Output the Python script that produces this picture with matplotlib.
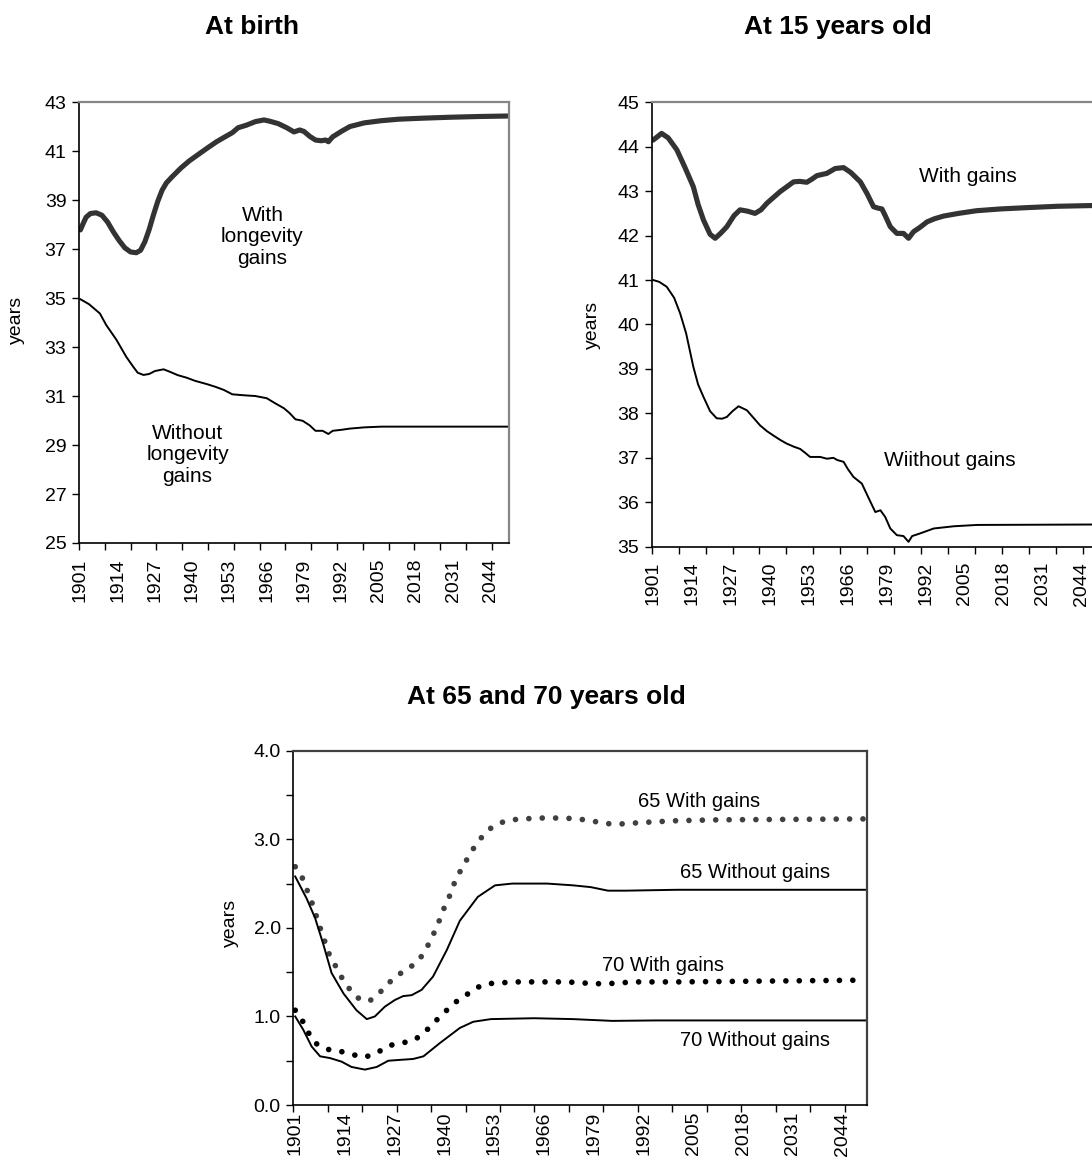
import numpy as np
import matplotlib
matplotlib.use("Agg")
import matplotlib.pyplot as plt
from matplotlib.ticker import FixedLocator, NullFormatter

plt.rcParams['font.family'] = ['Liberation Sans', 'DejaVu Sans']

# ---- data ----
# At birth
birth_with_yr = [1901, 1902, 1903, 1904.5, 1906.5, 1908.5, 1910.5, 1912.5, 1914.5, 1916.5, 1918.5,
                 1920.5, 1922, 1923.5, 1925, 1926.5, 1928, 1929.5, 1931, 1933, 1936, 1939, 1942,
                 1945, 1948.5, 1951, 1954, 1956, 1959, 1962, 1965, 1967, 1970, 1973, 1975.5,
                 1977.5, 1979, 1981, 1983, 1985, 1986.5, 1987.5, 1989, 1992, 1995, 2000, 2006,
                 2012, 2020, 2030, 2040, 2050]
birth_with = [37.78, 38.05, 38.3, 38.45, 38.48, 38.38, 38.1, 37.7, 37.35, 37.05, 36.88, 36.85,
              36.95, 37.3, 37.8, 38.4, 38.95, 39.4, 39.7, 39.95, 40.3, 40.6, 40.85, 41.1, 41.38,
              41.55, 41.75, 41.95, 42.06, 42.2, 42.27, 42.22, 42.12, 41.95, 41.78, 41.86, 41.8,
              41.6, 41.45, 41.42, 41.45, 41.38, 41.58, 41.8, 42.0, 42.15, 42.24, 42.3, 42.34,
              42.38, 42.41, 42.43]
birth_without_yr = [1901, 1904, 1907.8, 1910, 1913.6, 1917, 1919.4, 1921, 1923, 1925, 1927, 1930,
                    1932, 1935, 1938, 1941, 1945, 1948, 1951, 1954, 1958, 1962, 1966, 1969, 1972,
                    1974, 1976, 1978.5, 1981, 1983, 1985.5, 1987.5, 1989, 1992, 1995, 2000, 2006,
                    2050]
birth_without = [34.95, 34.75, 34.37, 33.9, 33.29, 32.6, 32.2, 31.95, 31.86, 31.9, 32.02, 32.09,
                 32.0, 31.85, 31.75, 31.62, 31.49, 31.38, 31.25, 31.07, 31.03, 31.0, 30.91, 30.7,
                 30.5, 30.3, 30.05, 29.99, 29.8, 29.58, 29.58, 29.45, 29.58, 29.62, 29.67, 29.72,
                 29.75, 29.75]

# At 15 years old
age15_with_yr = [1901, 1903.8, 1906, 1908.9, 1911.5, 1914.4, 1916, 1917.8, 1920, 1921.7, 1923.5,
                 1925.6, 1928, 1930, 1932.5, 1935, 1937, 1939, 1943.4, 1947.9, 1950, 1952.3, 1954,
                 1955.7, 1959, 1961.8, 1964.6, 1967, 1970.2, 1972.4, 1974.6, 1976, 1977.4, 1978.5,
                 1980.2, 1982.4, 1984.6, 1986.3, 1988, 1990, 1992.5, 1995, 1998, 2003, 2009, 2017,
                 2026, 2036, 2050]
age15_with = [44.15, 44.3, 44.2, 43.93, 43.55, 43.1, 42.7, 42.35, 42.03, 41.94, 42.05, 42.2, 42.45,
              42.58, 42.55, 42.5, 42.58, 42.73, 42.99, 43.21, 43.22, 43.2, 43.27, 43.35, 43.4,
              43.51, 43.53, 43.42, 43.21, 42.95, 42.65, 42.62, 42.6, 42.45, 42.2, 42.05, 42.05,
              41.94, 42.09, 42.18, 42.31, 42.38, 42.44, 42.5, 42.56, 42.6, 42.63, 42.66, 42.68]
age15_without_yr = [1901, 1903, 1905.5, 1908, 1910, 1912, 1914.4, 1916, 1917.8, 1920, 1922.2, 1924,
                    1925.6, 1927.5, 1929.5, 1932.3, 1934.5, 1936.7, 1939, 1941.2, 1943.5, 1945.6,
                    1948, 1950.1, 1952, 1953.4, 1956.8, 1959, 1961.2, 1962.5, 1964.6, 1966, 1967.9,
                    1970.7, 1973, 1975.2, 1976.9, 1978.5, 1980.2, 1982.4, 1984.6, 1986.3, 1987.5,
                    1990.2, 1994.7, 2001.4, 2009.2, 2050]
age15_without = [41.0, 40.96, 40.85, 40.6, 40.25, 39.8, 39.05, 38.65, 38.37, 38.05, 37.89, 37.88,
                 37.92, 38.05, 38.16, 38.07, 37.9, 37.73, 37.6, 37.5, 37.4, 37.32, 37.25, 37.2,
                 37.1, 37.02, 37.02, 36.98, 37.0, 36.95, 36.91, 36.75, 36.57, 36.42, 36.09, 35.78,
                 35.82, 35.67, 35.41, 35.26, 35.24, 35.11, 35.24, 35.3, 35.41, 35.46, 35.49, 35.5]

# At 65 and 70 years old
a65_with_yr = [1901, 1902.9, 1905.4, 1907.6, 1909.8, 1913, 1915, 1917.3, 1920.3, 1922.9, 1925.2,
               1927.9, 1930.9, 1933.4, 1935.3, 1936.8, 1938.3, 1939.4, 1941, 1942.1, 1943.6, 1945.3,
               1947, 1948.9, 1951.2, 1954.1, 1957.4, 1960.9, 1964.3, 1971, 1974.8, 1978.2, 1981.6,
               1985, 1988.4, 1991.8, 2000.8, 2012, 2050]
a65_with = [2.69, 2.56, 2.28, 1.99, 1.71, 1.45, 1.32, 1.21, 1.17, 1.26, 1.37, 1.47, 1.55, 1.64,
            1.77, 1.9, 2.04, 2.18, 2.32, 2.46, 2.6, 2.73, 2.86, 2.98, 3.1, 3.18, 3.22, 3.23, 3.24,
            3.24, 3.23, 3.21, 3.18, 3.17, 3.18, 3.19, 3.21, 3.22, 3.23]
a65_without_yr = [1901, 1904, 1906.2, 1908.3, 1910.5, 1913.6, 1917, 1919.7, 1921.8, 1924.4, 1927,
                  1929.2, 1931.4, 1934, 1937, 1940.6, 1944, 1948.7, 1953.2, 1957.7, 1966.8, 1973.6,
                  1978.2, 1982.7, 1987.3, 2000.8, 2050]
a65_without = [2.58, 2.33, 2.11, 1.82, 1.49, 1.26, 1.07, 0.97, 1.0, 1.11, 1.185, 1.23, 1.24, 1.3,
               1.45, 1.75, 2.08, 2.35, 2.48, 2.5, 2.5, 2.48, 2.46, 2.42, 2.42, 2.43, 2.43]
a70_with_yr = [1901, 1902.9, 1904.4, 1906.2, 1909.2, 1912.5, 1915.9, 1919.2, 1922.4, 1925.3, 1928.8,
               1932, 1934.8, 1937.2, 1939.7, 1942.1, 1945, 1948.1, 1951.2, 1954.9, 1958.3, 1972,
               1975.6, 1979, 1982.7, 1986.1, 1989.5, 2000.8, 2050]
a70_with = [1.07, 0.95, 0.82, 0.7, 0.63, 0.61, 0.57, 0.54, 0.59, 0.67, 0.7, 0.73, 0.82, 0.93, 1.03,
            1.14, 1.22, 1.32, 1.37, 1.38, 1.39, 1.39, 1.38, 1.37, 1.37, 1.38, 1.39, 1.39, 1.41]
a70_without_yr = [1901, 1903.1, 1905.3, 1907.5, 1910.1, 1913.1, 1915.7, 1919.2, 1922.3, 1925.3,
                  1928.4, 1931.8, 1934.5, 1938.8, 1944, 1947.5, 1952.1, 1963.4, 1973.6, 1983.8,
                  1995, 2050]
a70_without = [1.0, 0.85, 0.66, 0.55, 0.53, 0.49, 0.43, 0.4, 0.43, 0.5, 0.51, 0.52, 0.55, 0.7,
               0.87, 0.94, 0.97, 0.98, 0.97, 0.95, 0.955, 0.955]

tick_years = list(range(1901, 2045, 13))
mark_years = [1900.5 + 9 * k for k in range(17)]

thick = dict(color='#333333', lw=3.7, solid_capstyle='round', solid_joinstyle='round')
thin = dict(color='black', lw=1.4, solid_joinstyle='round')
TICK_FS = 14


def style_axes(ax, ylo, yhi, ystep, edge='#868686', fmt='{:.0f}', minor_y=None, xpad=11):
    ax.set_xlim(1900.5, 2050.5)
    ax.set_ylim(ylo, yhi)
    ax.set_xticks(tick_years)
    ax.set_xticklabels([str(y) for y in tick_years], rotation=90, fontsize=TICK_FS)
    ax.xaxis.set_minor_locator(FixedLocator(mark_years))
    ax.xaxis.set_minor_formatter(NullFormatter())
    ax.tick_params(axis='x', which='major', length=0, pad=xpad)
    ax.tick_params(axis='x', which='minor', length=5, width=1, direction='out')
    yt = np.arange(ylo, yhi + ystep / 2, ystep)
    ax.set_yticks(yt)
    ax.set_yticklabels([fmt.format(v) for v in yt], fontsize=TICK_FS)
    if minor_y is not None:
        ax.yaxis.set_minor_locator(FixedLocator(minor_y))
    ax.tick_params(axis='y', which='both', length=5, width=1, direction='out', pad=4)
    for s in ['left', 'bottom']:
        ax.spines[s].set_color('black')
        ax.spines[s].set_linewidth(1.2)
    for s in ['top', 'right']:
        ax.spines[s].set_color(edge)
        ax.spines[s].set_linewidth(1.6)


fig = plt.figure(figsize=(10.92, 11.61), dpi=100)

# At birth
ax1 = fig.add_axes([0.0723, 0.5323, 0.3938, 0.3798])
ax1.plot(birth_with_yr, birth_with, **thick)
ax1.plot(birth_without_yr, birth_without, **thin)
style_axes(ax1, 25, 43, 2)
ax1.set_ylabel('years', fontsize=14)
ax1.yaxis.set_label_coords(-0.126, 0.506)
ax1.text(1964.5, 37.5, 'With\nlongevity\ngains', ha='center', va='center', fontsize=15,
         linespacing=1.15)
ax1.text(1938.4, 28.6, 'Without\nlongevity\ngains', ha='center', va='center', fontsize=15,
         linespacing=1.15)
fig.text(0.2308, 0.977, 'At birth', ha='center', va='center', fontsize=19, fontweight='bold')

# At 15 years old
ax2 = fig.add_axes([0.5968, 0.5291, 0.4112, 0.3828])
ax2.plot(age15_with_yr, age15_with, **thick)
ax2.plot(age15_without_yr, age15_without, **thin)
style_axes(ax2, 35, 45, 1)
ax2.set_ylabel('years', fontsize=14)
ax2.yaxis.set_label_coords(-0.113, 0.499)
ax2.text(2006.1, 43.33, 'With gains', ha='center', va='center', fontsize=15)
ax2.text(2000, 36.93, 'Wiithout gains', ha='center', va='center', fontsize=15)
fig.text(0.767, 0.977, 'At 15 years old', ha='center', va='center', fontsize=19,
         fontweight='bold')

# At 65 and 70 years old
ax3 = fig.add_axes([0.2686, 0.0482, 0.5258, 0.3052])
dots = dict(lw=4.1, linestyle=(0, (0.001, 2.35)), dash_capstyle='round')
ax3.plot(a65_with_yr, a65_with, color='#404040', **dots)
ax3.plot(a65_without_yr, a65_without, **thin)
ax3.plot(a70_with_yr, a70_with, color='black', **dots)
ax3.plot(a70_without_yr, a70_without, **thin)
style_axes(ax3, 0, 4, 1, edge='#404040', fmt='{:.1f}', minor_y=[0.5, 1.5, 2.5, 3.5], xpad=5)
ax3.set_ylabel('years', fontsize=14)
ax3.yaxis.set_label_coords(-0.094, 0.513)
ax3.text(2006.5, 3.43, '65 With gains', ha='center', va='center', fontsize=14.5)
ax3.text(2021, 2.63, '65 Without gains', ha='center', va='center', fontsize=14.5)
ax3.text(1997.2, 1.57, '70 With gains', ha='center', va='center', fontsize=14.5)
ax3.text(2021, 0.73, '70 Without gains', ha='center', va='center', fontsize=14.5)
fig.text(0.5, 0.4, 'At 65 and 70 years old', ha='center', va='center', fontsize=19,
         fontweight='bold')

fig.savefig('out.png', dpi=100)
